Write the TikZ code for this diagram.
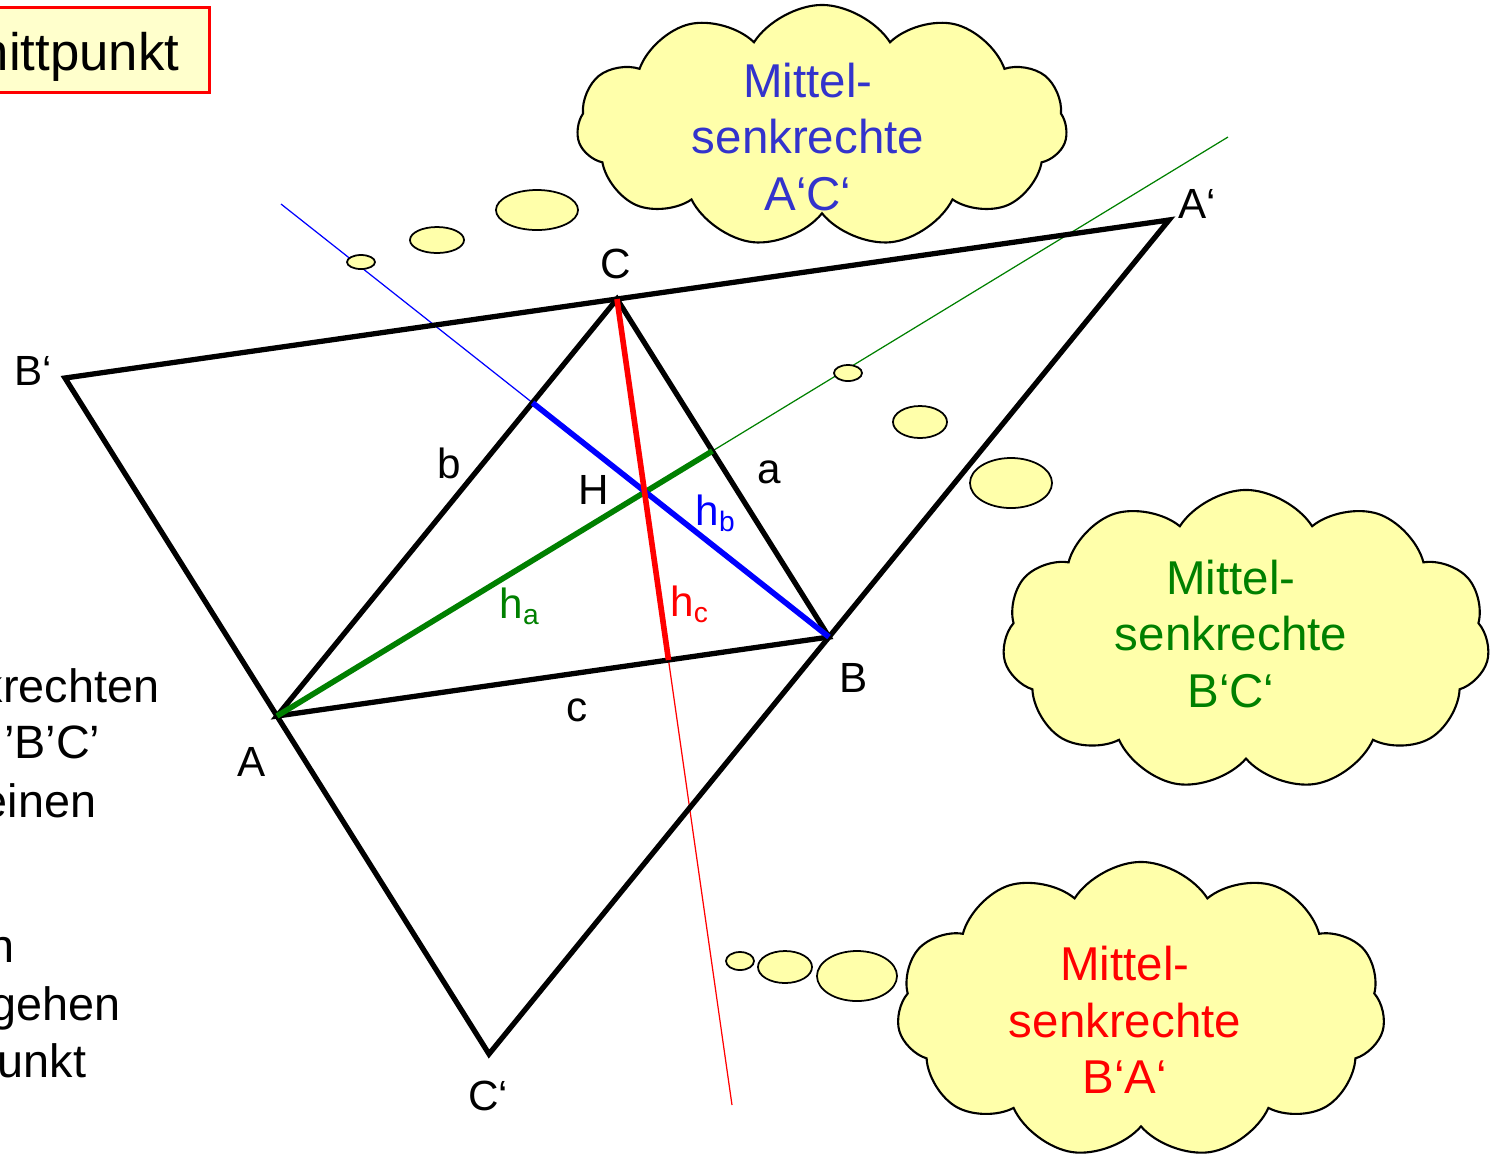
\documentclass[tikz,border=0pt]{standalone}
\usepackage{fontspec}
\setmainfont{Liberation Sans}
\usetikzlibrary{calc,shapes.symbols,shapes.geometric}

\definecolor{cloudfill}{RGB}{255,255,170}
\definecolor{boxfill}{RGB}{255,255,204}
\definecolor{mblue}{RGB}{51,51,204}
\definecolor{mgreen}{RGB}{0,128,0}

\begin{document}
\begin{tikzpicture}[x=0.01cm,y=-0.01cm,
  edge/.style={line width=1.5pt,black,line join=miter},
  thinline/.style={line width=0.35pt},
  hgt/.style={line width=1.6pt},
  lbl/.style={font=\fontsize{12}{14}\selectfont,inner sep=0pt},
  bubble/.style={ellipse,draw,fill=cloudfill,line width=0.5pt,inner sep=0pt},
  thought/.style={cloud,cloud puffs=11,cloud puff arc=115,draw,fill=cloudfill,
                  line width=0.6pt,inner sep=0pt},
  cloudtext/.style={align=center,font=\fontsize{13.5}{16}\selectfont,inner sep=0pt},
  sidetext/.style={font=\fontsize{13.3}{16}\selectfont,anchor=base east,inner sep=0pt}]

\useasboundingbox (0,0) rectangle (1490,1159);
\clip (0,0) rectangle (1490,1159);

% vertices
\coordinate (A) at (277,716);
\coordinate (B) at (829,637);
\coordinate (C) at (617,299);
\coordinate (Ap) at ($(B)+(C)-(A)$);
\coordinate (Bp) at ($(A)+(C)-(B)$);
\coordinate (Cp) at ($(A)+(B)-(C)$);

% ends of the thin lines, feet of the heights
\coordinate (Ea) at (1228,137);
\coordinate (Eb) at (281,204);
\coordinate (Ec) at (732,1105);
\coordinate (Fa) at (intersection of A--Ea and B--C);
\coordinate (Fb) at (intersection of B--Eb and A--C);
\coordinate (Fc) at (intersection of C--Ec and A--B);

% title box
\node[draw=red,fill=boxfill,line width=0.8pt,anchor=north east,
      minimum width=2.4cm,minimum height=0.85cm] (titlebox) at (211,6) {};
\node[font=\fontsize{15}{18}\selectfont,anchor=base east,inner sep=0pt] (title) at (180,70) {nittpunkt};

% left text
\node[sidetext] (s1) at (160,702) {krechten};
\node[sidetext] (s2) at (101,758) {’B’C’};
\node[sidetext] (s3) at (97,817) {einen};
\node[sidetext] (s4) at (15,962) {n};
\node[sidetext] (s5) at (121,1020) {gehen};
\node[sidetext] (s6) at (87,1077) {unkt};

% thin extensions
\draw[thinline,mgreen] (Fa) -- (Ea);
\draw[thinline,blue] (Fb) -- (Eb);
\draw[thinline,red] (Fc) -- (Ec);

% triangles
\draw[edge] (Ap) -- (Bp) -- (Cp) -- cycle;
\draw[edge] (A) -- (B) -- (C) -- cycle;

% heights
\draw[hgt,mgreen] (A) -- (Fa);
\draw[hgt,blue] (B) -- (Fb);
\draw[hgt,red] (C) -- (Fc);

% labels
\node[lbl] (lA) at (252,762) {A};
\node[lbl] (lB) at (854,678) {B};
\node[lbl] (lC) at (616,264) {C};
\node[lbl] (lAp) at (1197,204) {A‘};
\node[lbl] (lBp) at (33,371) {B‘};
\node[lbl] (lCp) at (488,1096) {C‘};
\node[lbl] (la) at (769,472) {a};
\node[lbl] (lb) at (449,463) {b};
\node[lbl] (lc) at (577,710) {c};
\node[lbl] (lH) at (594,490) {H};
\node[lbl,mgreen] (lha) at (520,606) {h\textsubscript{a}};
\node[lbl,blue] (lhb) at (716,513) {h\textsubscript{b}};
\node[lbl,red] (lhc) at (690,604) {h\textsubscript{c}};

% thought bubbles
\node[bubble,minimum width=0.28cm,minimum height=0.14cm] (b1a) at (361,262) {};
\node[bubble,minimum width=0.54cm,minimum height=0.26cm] (b1b) at (437,240) {};
\node[bubble,minimum width=0.82cm,minimum height=0.40cm] (b1c) at (537,210) {};
\node[bubble,minimum width=0.28cm,minimum height=0.16cm] (b2a) at (848,373) {};
\node[bubble,minimum width=0.54cm,minimum height=0.32cm] (b2b) at (920,422) {};
\node[bubble,minimum width=0.82cm,minimum height=0.50cm] (b2c) at (1011,483) {};
\node[bubble,minimum width=0.28cm,minimum height=0.18cm] (b3a) at (740,961) {};
\node[bubble,minimum width=0.54cm,minimum height=0.32cm] (b3b) at (785,967) {};
\node[bubble,minimum width=0.80cm,minimum height=0.50cm] (b3c) at (857,976) {};

% clouds
\node[thought,minimum width=4.9cm,minimum height=2.42cm] (cAC) at (822,126) {};
\node[cloudtext,text=mblue] (tAC) at (808,137) {Mittel-\\senkrechte\\A‘C‘};
\node[thought,minimum width=4.87cm,minimum height=3.0cm] (cBC) at (1246,640) {};
\node[cloudtext,text=mgreen] (tBC) at (1231,634) {Mittel-\\senkrechte\\B‘C‘};
\node[thought,minimum width=4.88cm,minimum height=2.96cm] (cBA) at (1141,1010) {};
\node[cloudtext,text=red] (tBA) at (1125,1020) {Mittel-\\senkrechte\\B‘A‘};
\end{tikzpicture}
\end{document}
